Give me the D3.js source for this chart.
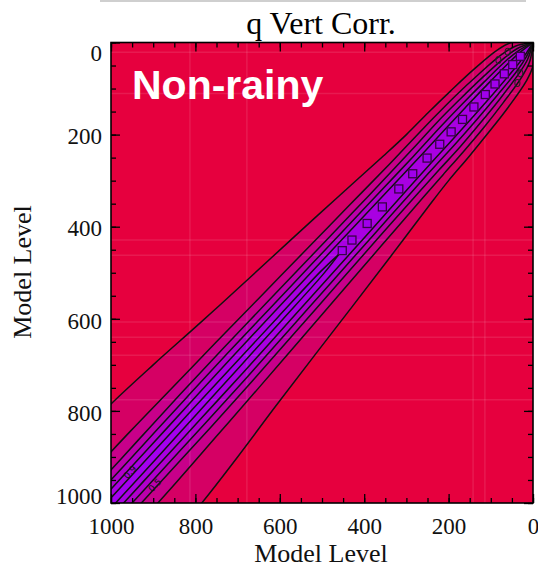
<!DOCTYPE html>
<html>
<head>
<meta charset="utf-8">
<script src="https://cdn.jsdelivr.net/npm/d3@7"></script>
<style>
  body { margin: 0; background: #fff; }
  svg { display: block; }
</style>
</head>
<body>
<svg id="chart" width="538" height="568"></svg>
<script>
// ---------------------------------------------------------------------------
// data (model levels)
var mLevels = [0, 25, 50, 100, 150, 200, 250, 300, 400, 500, 600, 700, 800, 900, 1000];
var contourLevels = [0.1, 0.3, 0.5, 0.7, 0.9];
// full separation |i-j| at which each contour is crossed, per mean level
var w010 = [0, 50, 68, 82, 90, 96, 100, 108, 127, 145, 162, 180, 200, 216, 222];
var w030 = [0, 34, 48, 60, 68, 72, 74, 76, 82, 88, 94, 100, 105, 110, 112];
var w050 = [0, 24, 34, 44, 50, 54, 54, 55, 58, 62, 66, 70, 72, 72, 72];
var w070 = [0, 16, 24, 30, 34, 36, 36, 37, 40, 43, 46, 49, 50, 50, 50];
var w090 = [0, 9, 13, 17, 19, 20, 20, 21, 24, 26, 28, 30, 30, 30, 30];
// innermost contour only closes as a band in the lower part
var mInner = [460, 500, 600, 700, 800, 900, 1000];
var wInner = [0, 6, 8, 9, 10, 11, 11];
// small closed contours sitting on the diagonal grid points
var boxLevels = [452, 429, 393, 357, 318, 285, 251, 221, 194, 167, 140, 113, 90, 68, 48, 30];
// stray little loops near the top corner (x level, y level)
var loopX = [82, 30, 37, 60];
var loopY = [38, 67, 88, 20];
// contour labels
var labelText = ["0.9", "0.5"];
var labelX = [955, 896];
var labelY = [933, 961];
// faint grid lines seen in the picture
var gridRows = [21, 111, 429, 462, 607, 640, 679, 776];
var gridCols = [813, 678, 142, 114];
var xTicks = [1000, 800, 600, 400, 200, 0];
var yTicks = [0, 200, 400, 600, 800, 1000];

var bandColors = ["#d50064", "#c8008a", "#bb00ac", "#b000cc", "#a900e2"];
var innerColor = "#a400f0";
var bgColor = "#e6003e";
// ---------------------------------------------------------------------------

var svg = d3.select("#chart");
var x = d3.scaleLinear().domain([1000, 0]).range([111, 533]);
var y = d3.scaleLinear().domain([0, 1000]).range([42.5, 503]);

svg.append("line")
    .attr("x1", 100).attr("x2", 526).attr("y1", 1).attr("y2", 1)
    .attr("stroke", "#cfcfcf").attr("stroke-width", 2);

svg.append("text")
    .attr("x", 321).attr("y", 34)
    .attr("text-anchor", "middle")
    .style("font-family", "'Liberation Serif', 'Times New Roman', serif")
    .style("font-size", "32px")
    .text("q Vert Corr.");

svg.append("clipPath").attr("id", "plotclip")
    .append("rect")
    .attr("x", x(1000)).attr("y", y(0))
    .attr("width", x(0) - x(1000)).attr("height", y(1000) - y(0));

var plot = svg.append("g").attr("clip-path", "url(#plotclip)");

plot.append("rect")
    .attr("x", x(1000)).attr("y", y(0))
    .attr("width", x(0) - x(1000)).attr("height", y(1000) - y(0))
    .attr("fill", bgColor);

var lineGen = d3.line()
    .x((d) => x(d[0]))
    .y((d) => y(d[1]))
    .curve(d3.curveCatmullRom.alpha(0.5));

// upper-left and lower-right branch of a symmetric contour
function sides(ms, ws) {
    var a = ms.map((m, i) => [m + ws[i] / 2, m - ws[i] / 2]);
    var b = ms.map((m, i) => [m - ws[i] / 2, m + ws[i] / 2]);
    return [a, b];
}

var contours = [
    sides(mLevels, w010),
    sides(mLevels, w030),
    sides(mLevels, w050),
    sides(mLevels, w070),
    sides(mLevels, w090),
    sides(mInner, wInner)
];

contours.forEach(function (c, k) {
    var p = lineGen(c[0]) + lineGen(c[1].slice().reverse()).replace(/^M/, "L") + "Z";
    plot.append("path")
        .attr("d", p)
        .attr("fill", k < bandColors.length ? bandColors[k] : innerColor);
});

// faint grid
plot.selectAll("line.grow")
    .data(gridRows)
    .enter().append("line")
    .attr("class", "grow")
    .attr("x1", x(1000)).attr("x2", x(0))
    .attr("y1", (d) => y(d)).attr("y2", (d) => y(d))
    .attr("stroke", "#fff").attr("stroke-opacity", 0.1).attr("stroke-width", 1.5);
plot.selectAll("line.gcol")
    .data(gridCols)
    .enter().append("line")
    .attr("class", "gcol")
    .attr("y1", y(0)).attr("y2", y(1000))
    .attr("x1", (d) => x(d)).attr("x2", (d) => x(d))
    .attr("stroke", "#fff").attr("stroke-opacity", 0.1).attr("stroke-width", 1.5);

contours.forEach(function (c) {
    c.forEach(function (side) {
        plot.append("path")
            .attr("d", lineGen(side))
            .attr("fill", "none")
            .attr("stroke", "#111")
            .attr("stroke-width", 1.5);
    });
});

// little boxes on the diagonal
plot.selectAll("rect.box")
    .data(boxLevels)
    .enter().append("rect")
    .attr("class", "box")
    .attr("x", (d) => x(d) - 4)
    .attr("y", (d) => y(d) - 4)
    .attr("width", 8).attr("height", 8)
    .attr("fill", "#a000ec")
    .attr("stroke", "#3a0048")
    .attr("stroke-width", 1.3);

plot.selectAll("ellipse.loop")
    .data(loopX)
    .enter().append("ellipse")
    .attr("class", "loop")
    .attr("cx", (d) => x(d))
    .attr("cy", (d, i) => y(loopY[i]))
    .attr("rx", 2.5).attr("ry", 3.5)
    .attr("fill", "none")
    .attr("stroke", "#222")
    .attr("stroke-width", 1.1);

plot.selectAll("text.clab")
    .data(labelText)
    .enter().append("text")
    .attr("class", "clab")
    .attr("transform", (d, i) => "translate(" + x(labelX[i]) + "," + y(labelY[i]) + ") rotate(-47)")
    .attr("text-anchor", "middle")
    .attr("dy", "0.35em")
    .style("font-family", "'DejaVu Sans', sans-serif")
    .style("font-size", "9px")
    .attr("fill", "#111")
    .text((d) => d);

plot.append("text")
    .attr("x", 132).attr("y", 99)
    .attr("fill", "#fff")
    .style("font-family", "'Liberation Sans', Arial, sans-serif")
    .style("font-weight", "bold")
    .style("font-size", "41px")
    .text("Non-rainy");

// axes ----------------------------------------------------------------------
var minor = d3.range(0, 1001, 50);
var serif = "'Liberation Serif', 'Times New Roman', serif";

function styleAxis(g) {
    g.select(".domain").remove();
    g.selectAll("line").attr("stroke", "#000").attr("stroke-width", 1.3);
    g.selectAll("text")
        .style("font-family", serif)
        .style("font-size", "23px")
        .attr("fill", "#111");
}

svg.append("g").attr("transform", "translate(0," + y(1000) + ")")
    .call(d3.axisBottom(x).tickValues(minor).tickSize(-5).tickFormat(""))
    .call(styleAxis);
svg.append("g").attr("transform", "translate(0," + y(1000) + ")")
    .call(d3.axisBottom(x).tickValues(xTicks).tickSize(-9).tickPadding(15).tickFormat(d3.format("d")))
    .call(styleAxis);
svg.append("g").attr("transform", "translate(0," + y(0) + ")")
    .call(d3.axisTop(x).tickValues(minor).tickSize(-5).tickFormat(""))
    .call(styleAxis);
svg.append("g").attr("transform", "translate(0," + y(0) + ")")
    .call(d3.axisTop(x).tickValues(xTicks).tickSize(-9).tickFormat(""))
    .call(styleAxis);

svg.append("g").attr("transform", "translate(" + x(1000) + ",0)")
    .call(d3.axisLeft(y).tickValues(minor).tickSize(-5).tickFormat(""))
    .call(styleAxis);
var yAx = svg.append("g").attr("transform", "translate(" + x(1000) + ",0)")
    .call(d3.axisLeft(y).tickValues(yTicks).tickSize(-9).tickPadding(9).tickFormat(d3.format("d")))
    .call(styleAxis);
// end labels pulled inward like the original plot
yAx.selectAll("text").attr("dy", (d) => d == 0 ? "0.78em" : d == 1000 ? "0em" : "0.4em");

svg.append("g").attr("transform", "translate(" + x(0) + ",0)")
    .call(d3.axisRight(y).tickValues(minor).tickSize(-5).tickFormat(""))
    .call(styleAxis);
svg.append("g").attr("transform", "translate(" + x(0) + ",0)")
    .call(d3.axisRight(y).tickValues(yTicks).tickSize(-9).tickFormat(""))
    .call(styleAxis);

svg.append("rect")
    .attr("x", x(1000)).attr("y", y(0))
    .attr("width", x(0) - x(1000)).attr("height", y(1000) - y(0))
    .attr("fill", "none").attr("stroke", "#000").attr("stroke-width", 1.6);

svg.append("text")
    .attr("x", 321).attr("y", 562)
    .attr("text-anchor", "middle")
    .style("font-family", serif)
    .style("font-size", "26px")
    .attr("fill", "#111")
    .text("Model Level");

svg.append("text")
    .attr("transform", "translate(31,272) rotate(-90)")
    .attr("text-anchor", "middle")
    .style("font-family", serif)
    .style("font-size", "26px")
    .attr("fill", "#111")
    .text("Model Level");
</script>
</body>
</html>
